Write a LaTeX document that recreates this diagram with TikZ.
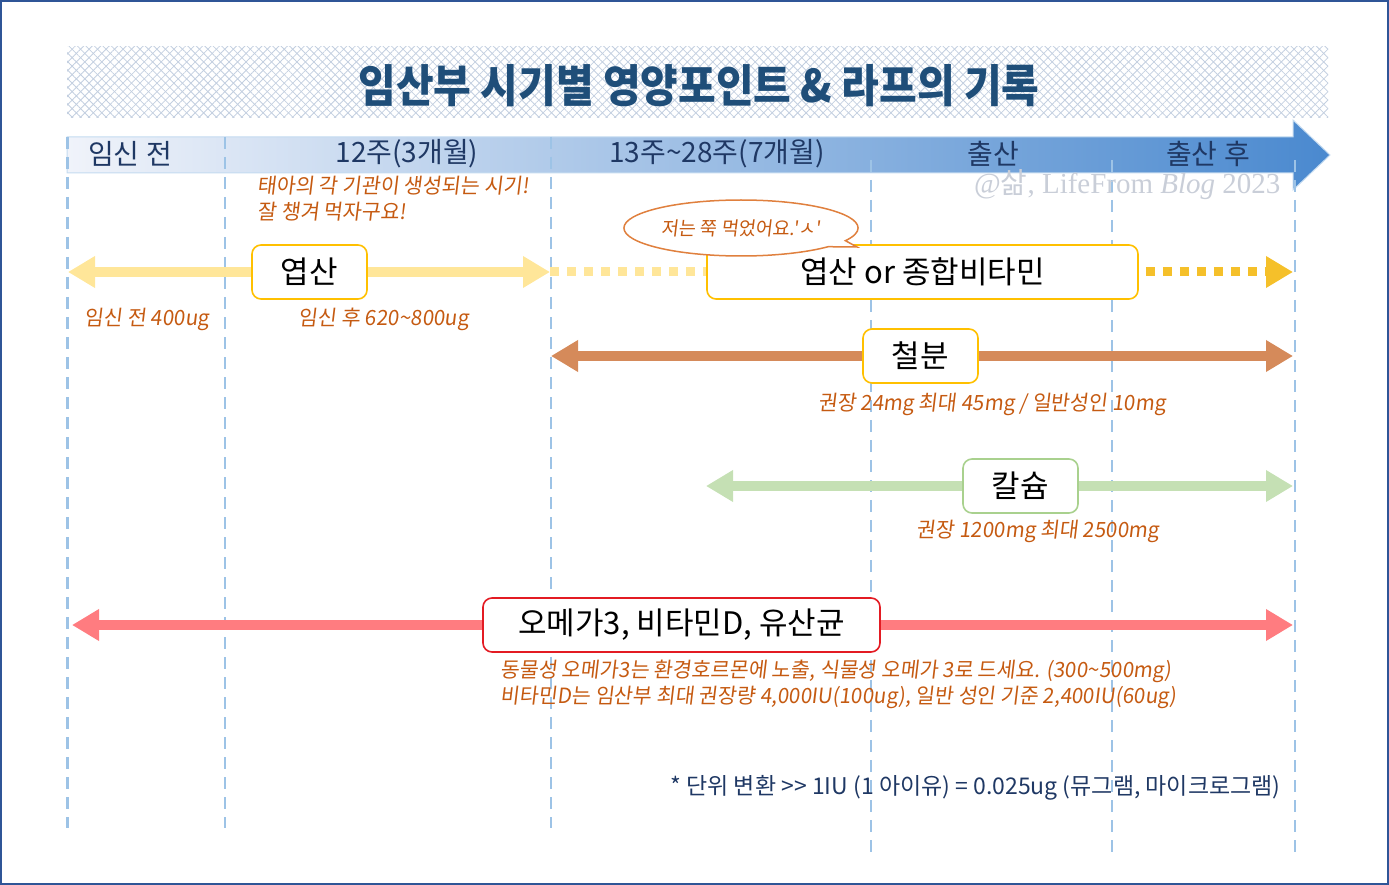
\documentclass[tikz,border=0pt]{standalone}
\usepackage{fontspec}
\setmainfont{Noto Sans CJK KR}
\newfontfamily\handfont[FakeSlant=0.12,FakeStretch=0.98]{Noto Sans CJK KR}
\newfontfamily\titlefont[FakeStretch=0.91]{Noto Sans CJK KR}
\newfontfamily\markfont{Liberation Serif}
\usetikzlibrary{arrows.meta,patterns.meta,shapes.callouts,positioning}

\definecolor{frameblue}{HTML}{2F5597}
\definecolor{navy}{HTML}{1F3864}
\definecolor{titleblue}{HTML}{1F4E79}
\definecolor{hatchblue}{HTML}{C3CFE0}
\definecolor{hdrleft}{HTML}{F0F3FA}
\definecolor{hdrright}{HTML}{4A89CF}
\definecolor{guideblue}{HTML}{9DC3E6}
\definecolor{handbrown}{HTML}{C55A11}
\definecolor{markgray}{HTML}{C9CED8}
\definecolor{folicpale}{HTML}{FFE699}
\definecolor{folicgold}{HTML}{F5C02A}
\definecolor{boxgold}{HTML}{FFC000}
\definecolor{ironbrown}{HTML}{D58A5A}
\definecolor{calgreen}{HTML}{C5E0B4}
\definecolor{calborder}{HTML}{A9D18E}
\definecolor{omegapink}{HTML}{FF7C80}
\definecolor{omegared}{HTML}{E31B23}
\definecolor{bubbleorange}{HTML}{E0803E}

\begin{document}
\begin{tikzpicture}[x=1pt,y=-1pt,
  nutbox/.style={rectangle,rounded corners=9pt,draw=#1,line width=1.6pt,fill=white,
    minimum height=54pt,inner sep=0pt,font=\fontsize{31}{34}\selectfont},
  hand/.style={text=handbrown,font=\handfont\fontsize{21}{25}\selectfont},
  period/.style={text=navy,font=\fontsize{28}{32}\selectfont},
  guide/.style={draw=guideblue,line width=1.5pt,dash pattern=on 12pt off 8pt},
  span/.style={draw=#1,line width=10pt,-{Triangle[length=27pt,width=30pt]}},
  dotline/.style={draw=#1,line width=9pt,dash pattern=on 9pt off 8pt}]
\useasboundingbox (0,0) rectangle (1389,885);
\draw[frameblue,line width=2pt] (1,1) rectangle (1388,884);

% title banner
\path[pattern={Lines[angle=45,distance=6pt,line width=0.8pt]},pattern color=hatchblue] (67,47) rectangle (1328,118);
\path[pattern={Lines[angle=-45,distance=6pt,line width=0.8pt]},pattern color=hatchblue] (67,47) rectangle (1328,118);
\node[text=titleblue,font=\titlefont\bfseries\fontsize{45}{48}\selectfont] (title) at (699,86) {임산부 시기별 영양포인트 \& 라프의 기록};

% time axis
\path[left color=hdrleft,right color=hdrright,draw=guideblue!60,line width=1pt]
  (67,137) -- (1293,137) -- (1293,120) -- (1330,155) -- (1293,190) -- (1293,173) -- (67,173) -- cycle;
\draw[guide,line width=3pt] (67,137) -- (67,828);
\foreach \gx/\gt/\gb in {225/137/828,551/137/828,871/160/852,1112/160/852,1295/160/852}
  \draw[guide] (\gx,\gt) -- (\gx,\gb);
\node[period] (pre) at (130,154) {임신 전};
\node[period] (w12) at (407,154) {12주(3개월)};
\node[period] (w28) at (717,154) {13주\textasciitilde28주(7개월)};
\node[period] (birth) at (993,154) {출산};
\node[period] (post) at (1208,154) {출산 후};
\node[anchor=east,text=markgray,font=\markfont\fontsize{29}{32}\selectfont] (mark) at (1284,185)
  {@{\normalfont 삶}, LifeFrom {\itshape Blog} 2023};

\node[hand,anchor=west] (organNote) at (254,186) {태아의 각 기관이 생성되는 시기!};
\node[hand,anchor=west] (eatNote) at (254,212) {잘 챙겨 먹자구요!};

% folic acid
\coordinate (folL) at (68,272);
\coordinate (folR) at (550,272);
\coordinate (multiR) at (1293,272);
\node[nutbox=boxgold,minimum width=115pt] (yeop) at (309.5,272) {엽산};
\node[nutbox=boxgold,minimum width=431pt] (multi) at (922.5,272) {엽산 or 종합비타민};
\draw[span=folicpale] (yeop.west) -- (folL);
\draw[span=folicpale] (yeop.east) -- (folR);
\draw[dotline=folicpale] (folR) -- (multi.west);
\draw[dotline=folicgold,shorten <=7pt,-{Triangle[length=27pt,width=30pt]}] (multi.east) -- (multiR);
\node[ellipse callout,draw=bubbleorange,line width=1.5pt,fill=white,minimum width=234pt,
  minimum height=56pt,callout absolute pointer={(857,247)},hand,
  font=\handfont\fontsize{19}{22}\selectfont] (talk) at (741,228) {저는 쭉 먹었어요.'ㅅ'};
\node[hand] (preDose) at (147,319) {임신 전 400ug};
\node[hand] (postDose) at (384,319) {임신 후 620\textasciitilde800ug};

% iron
\coordinate (ironL) at (551,356);
\coordinate (ironR) at (1293,356);
\node[nutbox=boxgold,minimum width=115pt] (iron) at (920.5,356) {철분};
\draw[span=ironbrown] (iron.west) -- (ironL);
\draw[span=ironbrown] (iron.east) -- (ironR);
\node[hand] (ironDose) at (992,404) {권장 24mg 최대 45mg / 일반성인 10mg};

% calcium
\coordinate (calL) at (706,486);
\coordinate (calR) at (1293,486);
\node[nutbox=calborder,minimum width=115pt] (calc) at (1020.5,486) {칼슘};
\draw[span=calgreen] (calc.west) -- (calL);
\draw[span=calgreen] (calc.east) -- (calR);
\node[hand] (calDose) at (1038,531) {권장 1200mg 최대 2500mg};

% omega, vitamin D, probiotics
\coordinate (omL) at (72,625);
\coordinate (omR) at (1293,625);
\node[nutbox=omegared,minimum width=397pt] (omega) at (681.5,625) {오메가3, 비타민D, 유산균};
\draw[span=omegapink] (omega.west) -- (omL);
\draw[span=omegapink] (omega.east) -- (omR);
\node[hand,anchor=west] (omegaNote) at (497,671)
  {동물성 오메가3는 환경호르몬에 노출, 식물성 오메가 3로 드세요. (300\textasciitilde500mg)};
\node[hand,anchor=west] (vitdNote) at (497,697)
  {비타민D는 임산부 최대 권장량 4,000IU(100ug), 일반 성인 기준 2,400IU(60ug)};

\node[anchor=east,text=navy,font=\fontsize{23}{26}\selectfont] (unitNote) at (1284,788)
  {* 단위 변환 >{}> 1IU (1 아이유) = 0.025ug (뮤그램, 마이크로그램)};
\end{tikzpicture}
\end{document}
